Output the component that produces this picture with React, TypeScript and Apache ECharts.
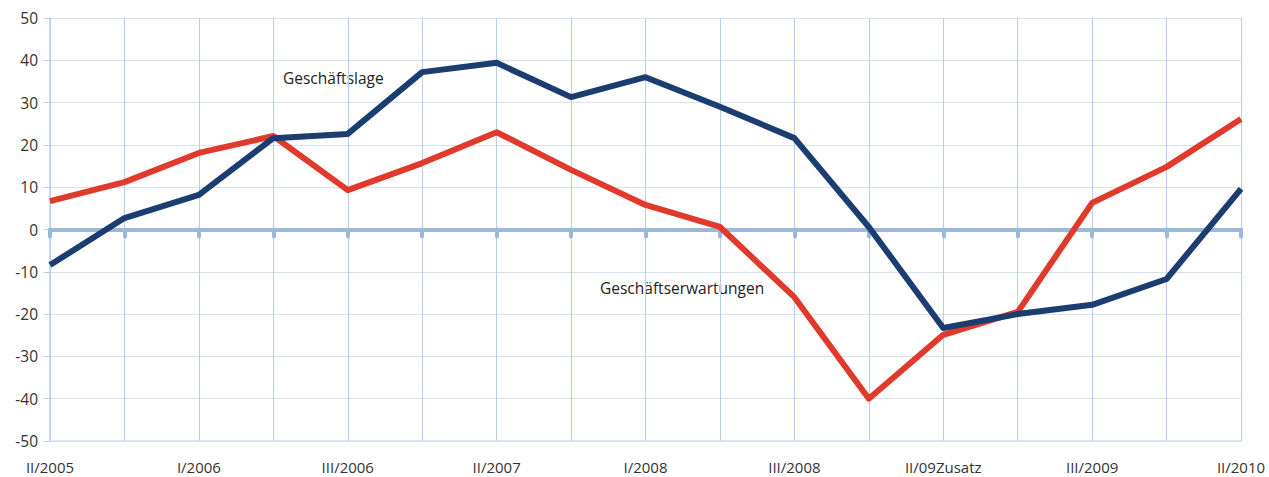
import React, { useEffect, useRef } from "react";
import * as echarts from "echarts";

const categories = [
  "II/2005", "III/2005", "I/2006", "II/2006", "III/2006", "I/2007", "II/2007", "III/2007",
  "I/2008", "II/2008", "III/2008", "I/2009", "II/09Zusatz", "II/2009", "III/2009", "I/2010", "II/2010",
];
const geschaeftslage = [-8.4, 2.7, 8.2, 21.6, 22.6, 37.2, 39.4, 31.3, 36.0, 29.0, 21.6, 0.6, -23.3, -20.0, -17.8, -11.7, 9.6];
const geschaeftserwartungen = [6.7, 11.2, 18.1, 22.1, 9.3, 15.7, 23.0, 14.1, 5.8, 0.6, -16.0, -40.0, -24.9, -19.5, 6.3, 14.8, 26.1];
const yTicks = { min: -50, max: 50, interval: 10 };

const FONT = "'Open Sans', 'Liberation Sans', sans-serif";

export default function App() {
  const ref = useRef<HTMLDivElement>(null);
  useEffect(() => {
    if (!ref.current) return;
    const chart = echarts.init(ref.current, undefined, { renderer: "svg" });
    chart.setOption({
      animation: false,
      backgroundColor: "#ffffff",
      grid: { left: 50, right: 28, top: 18, bottom: 36, containLabel: false },
      xAxis: [
        {
          type: "category",
          data: categories,
          boundaryGap: false,
          position: "bottom",
          axisLine: { onZero: false, lineStyle: { color: "#d5dfeb", width: 1.5 } },
          axisTick: { show: false },
          axisLabel: {
            interval: 1,
            color: "#333",
            fontSize: 15,
            fontFamily: FONT,
            margin: 18,
          },
          splitLine: { show: true, interval: 0, lineStyle: { color: "#b9cfe7", width: 1 } },
        },
        {
          type: "category",
          data: categories,
          boundaryGap: false,
          position: "bottom",
          axisLine: { onZero: true, lineStyle: { color: "#9ab8db", width: 4 } },
          axisTick: { show: true, interval: 0, length: 7, lineStyle: { color: "#9ab8db", width: 4, cap: "round" } },
          axisLabel: { show: false },
          splitLine: { show: false },
        },
      ],
      yAxis: {
        type: "value",
        min: yTicks.min,
        max: yTicks.max,
        interval: yTicks.interval,
        axisLine: { show: true, lineStyle: { color: "#b9cfe7", width: 1.5 } },
        axisTick: { show: true, length: 6, lineStyle: { color: "#b9cfe7" } },
        axisLabel: { color: "#333", fontSize: 15.5, fontFamily: FONT, margin: 12 },
        splitLine: { show: true, lineStyle: { color: "#d8e2ee", width: 1 } },
      },
      series: [
        {
          name: "Geschäftserwartungen",
          type: "line",
          data: geschaeftserwartungen,
          xAxisIndex: 0,
          showSymbol: false,
          symbol: "none",
          lineStyle: { color: "#e03a2c", width: 6, join: "round" },
          z: 3,
        },
        {
          name: "Geschäftslage",
          type: "line",
          data: geschaeftslage,
          xAxisIndex: 0,
          showSymbol: false,
          symbol: "none",
          lineStyle: { color: "#1b3d70", width: 6, join: "round" },
          z: 4,
        },
      ],
      graphic: [
        {
          type: "text",
          left: 283,
          top: 70,
          style: { text: "Geschäftslage", fill: "#222", fontSize: 15.5, fontFamily: FONT },
        },
        {
          type: "text",
          left: 600,
          top: 280,
          style: { text: "Geschäftserwartungen", fill: "#222", fontSize: 15.5, fontFamily: FONT },
        },
      ],
    });
    return () => chart.dispose();
  }, []);
  return (
    <div
      ref={ref}
      style={{ position: "fixed", left: 0, top: 0, width: 1269, height: 477, background: "#fff" }}
    />
  );
}
